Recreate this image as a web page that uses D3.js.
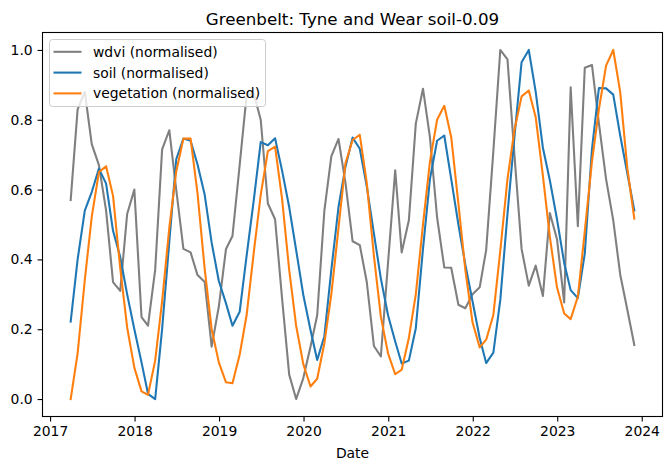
<!DOCTYPE html>
<html lang="en">
<head>
<meta charset="UTF-8">
<title>Greenbelt: Tyne and Wear soil-0.09</title>
<script src="https://cdn.jsdelivr.net/npm/d3@7"></script>
<style>
    body { margin: 0; background: #fff; }
    svg { display: block; font-family: "DejaVu Sans", sans-serif; }
</style>
</head>
<body>
<svg id="chart" width="671" height="470"></svg>
<script>
// monthly samples (plotted at month end)
var months = [
    "2017-03","2017-04","2017-05","2017-06","2017-07","2017-08","2017-09","2017-10","2017-11","2017-12",
    "2018-01","2018-02","2018-03","2018-04","2018-05","2018-06","2018-07","2018-08","2018-09","2018-10","2018-11","2018-12",
    "2019-01","2019-02","2019-03","2019-04","2019-05","2019-06","2019-07","2019-08","2019-09","2019-10","2019-11","2019-12",
    "2020-01","2020-02","2020-03","2020-04","2020-05","2020-06","2020-07","2020-08","2020-09","2020-10","2020-11","2020-12",
    "2021-01","2021-02","2021-03","2021-04","2021-05","2021-06","2021-07","2021-08","2021-09","2021-10","2021-11","2021-12",
    "2022-01","2022-02","2022-03","2022-04","2022-05","2022-06","2022-07","2022-08","2022-09","2022-10","2022-11","2022-12",
    "2023-01","2023-02","2023-03","2023-04","2023-05","2023-06","2023-07","2023-08","2023-09","2023-10","2023-11"
];

var wdvi = [
    0.57, 0.83, 0.88, 0.73, 0.67, 0.54, 0.335, 0.31, 0.53, 0.60,
    0.235, 0.21, 0.37, 0.715, 0.77, 0.60, 0.43, 0.42, 0.355, 0.335, 0.15, 0.265,
    0.43, 0.467, 0.67, 0.87, 0.875, 0.80, 0.56, 0.515, 0.29, 0.07, 0.0, 0.06,
    0.15, 0.24, 0.54, 0.695, 0.745, 0.62, 0.452, 0.441, 0.336, 0.152, 0.122, 0.39,
    0.655, 0.42, 0.512, 0.789, 0.889, 0.75, 0.52, 0.377, 0.376, 0.27, 0.26, 0.30,
    0.32, 0.427, 0.71, 1.0, 0.973, 0.70, 0.43, 0.325, 0.382, 0.295, 0.533, 0.458,
    0.277, 0.893, 0.495, 0.949, 0.957, 0.79, 0.63, 0.512, 0.357, 0.255, 0.155
];

var soil = [
    0.222, 0.40, 0.54, 0.593, 0.66, 0.617, 0.482, 0.407, 0.30, 0.20,
    0.105, 0.015, 0.0, 0.20, 0.45, 0.687, 0.746, 0.74, 0.672, 0.585, 0.448, 0.338,
    0.274, 0.21, 0.25, 0.41, 0.57, 0.736, 0.727, 0.747, 0.655, 0.55, 0.427, 0.298,
    0.198, 0.112, 0.18, 0.37, 0.55, 0.665, 0.749, 0.717, 0.61, 0.474, 0.345, 0.24,
    0.165, 0.102, 0.11, 0.203, 0.43, 0.63, 0.74, 0.755, 0.63, 0.50, 0.385, 0.28,
    0.175, 0.103, 0.133, 0.284, 0.53, 0.75, 0.965, 1.0, 0.88, 0.72, 0.627, 0.515,
    0.39, 0.312, 0.289, 0.417, 0.715, 0.891, 0.89, 0.872, 0.755, 0.646, 0.54
];

var vegetation = [
    0.0, 0.131, 0.341, 0.522, 0.65, 0.667, 0.582, 0.375, 0.205, 0.09,
    0.022, 0.012, 0.11, 0.28, 0.49, 0.652, 0.746, 0.746, 0.589, 0.372, 0.20, 0.105,
    0.048, 0.045, 0.127, 0.24, 0.42, 0.585, 0.71, 0.723, 0.575, 0.37, 0.21, 0.10,
    0.036, 0.058, 0.16, 0.30, 0.49, 0.675, 0.742, 0.757, 0.62, 0.41, 0.236, 0.131,
    0.071, 0.084, 0.175, 0.30, 0.50, 0.68, 0.80, 0.84, 0.75, 0.56, 0.37, 0.22,
    0.148, 0.17, 0.241, 0.425, 0.63, 0.77, 0.867, 0.884, 0.807, 0.64, 0.465, 0.32,
    0.245, 0.229, 0.293, 0.48, 0.68, 0.83, 0.955, 1.0, 0.88, 0.66, 0.517
];

var seriesNames = ["wdvi (normalised)", "soil (normalised)", "vegetation (normalised)"];
var seriesColors = ["#7f7f7f", "#1f77b4", "#ff7f0e"];
var yTicks = [0.0, 0.2, 0.4, 0.6, 0.8, 1.0];
var xTickYears = [2017, 2018, 2019, 2020, 2021, 2022, 2023, 2024];

var svg = d3.select("#chart"),
    width = +svg.attr("width"),
    height = +svg.attr("height"),
    margin = {top: 32.5, right: 8.5, bottom: 53.5, left: 42.5};

var parseMonth = d3.utcParse("%Y-%m");
var dates = months.map(function(m) {
    return d3.utcDay.offset(d3.utcMonth.offset(parseMonth(m), 1), -1);
});

var t0 = dates[0].getTime(), t1 = dates[dates.length - 1].getTime(),
    pad = (t1 - t0) * 0.05;

var x = d3.scaleUtc()
    .domain([new Date(t0 - pad), new Date(t1 + pad)])
    .range([margin.left, width - margin.right]);

var y = d3.scaleLinear()
    .domain([-0.05, 1.05])
    .range([height - margin.bottom, margin.top]);

var fs = 13.9;

// x axis
var gx = svg.append("g")
    .attr("transform", "translate(0," + (height - margin.bottom) + ")")
    .call(d3.axisBottom(x)
        .tickValues(xTickYears.map(function(yr) { return new Date(Date.UTC(yr, 0, 1)); }))
        .tickFormat(d3.utcFormat("%Y"))
        .tickSize(4.9)
        .tickPadding(4.9));
gx.select(".domain").remove();
gx.selectAll("text").attr("font-size", fs).attr("fill", "#000").attr("font-family", "DejaVu Sans");
gx.selectAll("line").attr("stroke", "#000").attr("stroke-width", 1.1);

// y axis
var gy = svg.append("g")
    .attr("transform", "translate(" + margin.left + ",0)")
    .call(d3.axisLeft(y)
        .tickValues(yTicks)
        .tickFormat(d3.format(".1f"))
        .tickSize(4.9)
        .tickPadding(4.9));
gy.select(".domain").remove();
gy.selectAll("text").attr("font-size", fs).attr("fill", "#000").attr("font-family", "DejaVu Sans");
gy.selectAll("line").attr("stroke", "#000").attr("stroke-width", 1.1);

// lines
var line = d3.line()
    .x(function(d, i) { return x(dates[i]); })
    .y(function(d) { return y(d); });

[wdvi, soil, vegetation].forEach(function(vals, k) {
    svg.append("path")
        .datum(vals)
        .attr("fill", "none")
        .attr("stroke", seriesColors[k])
        .attr("stroke-width", 2.08)
        .attr("stroke-linejoin", "round")
        .attr("stroke-linecap", "square")
        .attr("d", line);
});

// frame
svg.append("rect")
    .attr("x", margin.left)
    .attr("y", margin.top)
    .attr("width", width - margin.left - margin.right)
    .attr("height", height - margin.top - margin.bottom)
    .attr("fill", "none")
    .attr("stroke", "#000")
    .attr("stroke-width", 1.1);

// title and axis label
svg.append("text")
    .attr("x", (margin.left + width - margin.right) / 2)
    .attr("y", margin.top - 8)
    .attr("text-anchor", "middle")
    .attr("font-size", 16.7)
    .text("Greenbelt: Tyne and Wear soil-0.09");

svg.append("text")
    .attr("x", (margin.left + width - margin.right) / 2)
    .attr("y", height - 12)
    .attr("text-anchor", "middle")
    .attr("font-size", fs)
    .text("Date");

// legend
var lg = svg.append("g").attr("transform", "translate(49.5,39.5)");
lg.append("rect")
    .attr("width", 216)
    .attr("height", 67)
    .attr("rx", 3)
    .attr("fill", "#fff")
    .attr("fill-opacity", 0.8)
    .attr("stroke", "#cccccc")
    .attr("stroke-width", 1);

seriesNames.forEach(function(name, k) {
    var cy = 12.3 + k * 20.8;
    lg.append("line")
        .attr("x1", 4).attr("x2", 32)
        .attr("y1", cy).attr("y2", cy)
        .attr("stroke", seriesColors[k])
        .attr("stroke-width", 2.08);
    lg.append("text")
        .attr("x", 43.5)
        .attr("y", cy)
        .attr("dy", "0.36em")
        .attr("font-size", fs)
        .text(name);
});
</script>
</body>
</html>
